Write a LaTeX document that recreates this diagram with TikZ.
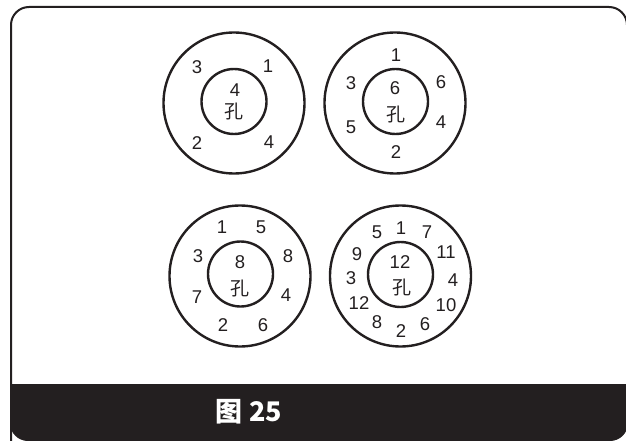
\documentclass[tikz,border=0pt]{standalone}
\usepackage{fontspec}
\setmainfont{Liberation Sans}
\newfontfamily\cjk{Noto Sans CJK SC}
\definecolor{ink}{HTML}{231F20}
\tikzset{
  ring/.style={circle, draw=ink, line width=2.4pt, inner sep=0pt, minimum size=141pt},
  hole/.style={circle, draw=ink, line width=2.4pt, inner sep=0pt, minimum size=65pt},
  num/.style={text=ink, font=\fontsize{18.5}{18.5}\selectfont, inner sep=0pt},
  kong/.style={text=ink, font=\cjk\fontsize{19}{19}\selectfont, inner sep=0pt},
}
\begin{document}
\begin{tikzpicture}[x=1pt, y=-1pt]
\useasboundingbox (0,0) rectangle (626,441);
% band
\begin{scope}
  \clip (0,384) rectangle (626,441);
  \fill[ink, rounded corners=18pt] (10,7) rectangle (628,441);
\end{scope}
% frame
\draw[ink, line width=2pt, rounded corners=18pt] (11,441) -- (11,7) -- (627,7) -- (627,441);
\node[text=white, font=\cjk\bfseries\fontsize{27}{27}\selectfont, inner sep=0pt] (cap) at (249,412) {图 25};

% circle 1
\node[ring] (o1) at (234,103) {};
\node[hole] (i1) at (234,101.5) {};
\node[num] (a1) at (235,90) {4};
\node[kong] (k1) at (234,111) {孔};
\node[num] (a1n3) at (197,67) {3};
\node[num] (a1n1) at (268,66) {1};
\node[num] (a1n2) at (197,143) {2};
\node[num] (a1n4) at (269,142) {4};

% circle 2
\node[ring] (o2) at (395,103) {};
\node[hole] (i2) at (395.5,101.5) {};
\node[num] (a2) at (395,88) {6};
\node[kong] (k2) at (396,114) {孔};
\node[num] (b1) at (396,55) {1};
\node[num] (b3) at (351,83) {3};
\node[num] (b6) at (441,82) {6};
\node[num] (b5) at (351,127) {5};
\node[num] (b4) at (441,122) {4};
\node[num] (b2) at (396,152) {2};

% circle 3
\node[ring] (o3) at (240,276) {};
\node[hole] (i3) at (240.5,274) {};
\node[num] (a3) at (240,262) {8};
\node[kong] (k3) at (240,288) {孔};
\node[num] (c1) at (222,227) {1};
\node[num] (c5) at (261,227) {5};
\node[num] (c3) at (198,256) {3};
\node[num] (c8) at (288,256) {8};
\node[num] (c7) at (197,297) {7};
\node[num] (c4) at (286,295) {4};
\node[num] (c2) at (223,325) {2};
\node[num] (c6) at (263,325) {6};

% circle 4
\node[ring] (o4) at (400.5,276) {};
\node[hole] (i4) at (400.5,274.5) {};
\node[num] (a4) at (400,262) {12};
\node[kong] (k4) at (401.5,287) {孔};
\node[num] (d5) at (377,232) {5};
\node[num] (d1) at (401,228) {1};
\node[num] (d7) at (427,232) {7};
\node[num] (d9) at (357,254) {9};
\node[num] (d11) at (446,252) {11};
\node[num] (d3) at (351,278) {3};
\node[num] (d4) at (453,280) {4};
\node[num] (d12) at (359,303) {12};
\node[num] (d10) at (446,305) {10};
\node[num] (d8) at (377,322) {8};
\node[num] (d2) at (401,331) {2};
\node[num] (d6) at (425,324) {6};
\end{tikzpicture}
\end{document}
